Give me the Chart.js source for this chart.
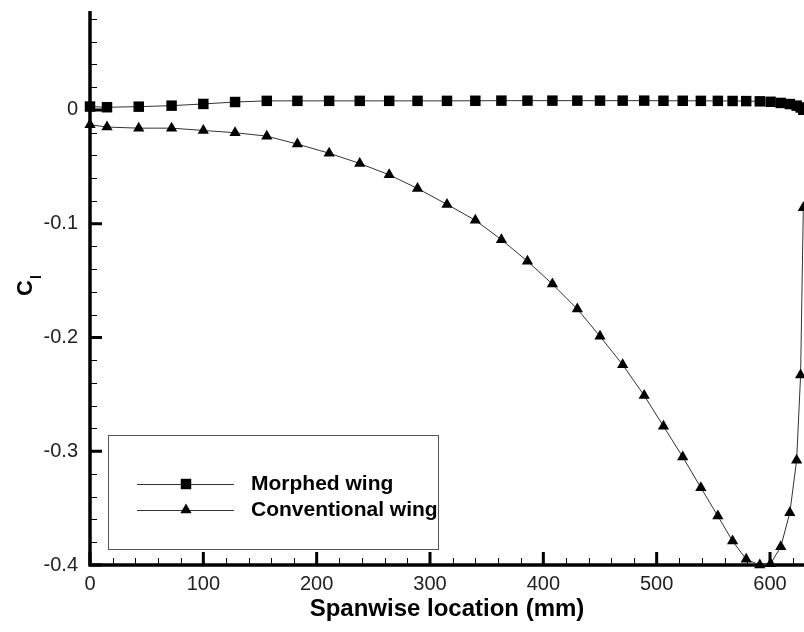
<html><head>
<title>Spanwise lift coefficient</title>
<style>
  body {
    margin: 0;
    background-color: #fff;
  }
  #wrap {
    width: 804px;
    height: 632px;
  }
</style>
<script src="https://cdn.jsdelivr.net/npm/chart.js"></script>
</head>
<body>
  <div id="wrap"><canvas id="clChart" width="804" height="632"></canvas></div>

  <script>
    // values
    const spanwise = [0, 15, 43, 72, 100, 128, 156, 183, 211, 238, 264, 289, 315, 340,
      363, 386, 408, 430, 450, 470, 489, 506, 523, 539, 554, 567, 579, 591,
      600.5, 609.5, 617.5, 623.5, 627, 629.4];
    const morphed = [0.003, 0.0024, 0.0029, 0.0038, 0.0053, 0.007, 0.008, 0.008, 0.008, 0.008,
      0.008, 0.008, 0.008, 0.0081, 0.0082, 0.0082, 0.0082, 0.0082, 0.0082, 0.0082,
      0.0082, 0.0081, 0.0081, 0.008, 0.008, 0.0079, 0.0078, 0.0076, 0.0072, 0.0062,
      0.0052, 0.0038, 0.0022, 0.0002];
    const conventional = [-0.013, -0.015, -0.016, -0.016, -0.018, -0.020, -0.023, -0.030,
      -0.038, -0.047, -0.057, -0.069, -0.083, -0.097, -0.114, -0.133, -0.153, -0.175,
      -0.199, -0.224, -0.251, -0.278, -0.305, -0.332, -0.357, -0.379, -0.395, -0.400,
      -0.399, -0.384, -0.354, -0.308, -0.233, -0.086];
    const seriesNames = ['Morphed wing', 'Conventional wing'];
    const xTicks = [0, 100, 200, 300, 400, 500, 600];
    const yTicks = [0, -0.1, -0.2, -0.3, -0.4];

    const FONT = '"Liberation Sans", Arial, sans-serif';
    const toPoints = (xs, ys) => xs.map((x, i) => ({ x: x, y: ys[i] }));

    // axis lines with inward major/minor ticks (Tecplot style)
    const axesPlugin = {
      id: 'axes',
      beforeDatasetsDraw(chart) {
        const { ctx, chartArea: a, scales: { x, y } } = chart;
        ctx.save();
        ctx.strokeStyle = '#000';
        ctx.lineCap = 'butt';

        // minor ticks
        ctx.lineWidth = 1;
        ctx.beginPath();
        for (let v = 20; v < x.max; v += 20) {
          if (v % 100 === 0) continue;
          const px = Math.round(x.getPixelForValue(v)) + 0.5;
          ctx.moveTo(px, a.bottom);
          ctx.lineTo(px, a.bottom - 7);
        }
        for (let k = -19; k <= 4; k++) {
          if (k % 5 === 0) continue;
          const py = Math.round(y.getPixelForValue(k * 0.02)) + 0.5;
          ctx.moveTo(a.left, py);
          ctx.lineTo(a.left + 7, py);
        }
        ctx.stroke();

        // major ticks
        ctx.lineWidth = 3;
        ctx.beginPath();
        xTicks.forEach(v => {
          const px = x.getPixelForValue(v);
          ctx.moveTo(px, a.bottom);
          ctx.lineTo(px, a.bottom - 13);
        });
        yTicks.forEach(v => {
          const py = y.getPixelForValue(v);
          ctx.moveTo(a.left, py);
          ctx.lineTo(a.left + 12, py);
        });
        ctx.stroke();

        // axis lines
        ctx.lineWidth = 3.5;
        ctx.beginPath();
        ctx.moveTo(a.left, a.top);
        ctx.lineTo(a.left, a.bottom);
        ctx.lineTo(a.right, a.bottom);
        ctx.stroke();
        ctx.restore();
      },
      afterDraw(chart) {
        const { ctx, scales: { y } } = chart;
        // subscript "l" of C_l on the rotated y title
        ctx.save();
        ctx.translate(25, (y.top + y.bottom) / 2);
        ctx.rotate(-Math.PI / 2);
        ctx.fillStyle = '#000';
        ctx.font = 'bold 14px ' + FONT;
        ctx.textBaseline = 'middle';
        ctx.fillText('l', 9, 12);
        ctx.restore();
      }
    };

    // boxed legend inside the plot, lower left
    const boxLegend = {
      id: 'boxLegend',
      afterDraw(chart) {
        const { ctx } = chart;
        ctx.save();
        ctx.fillStyle = '#fff';
        ctx.fillRect(108, 435, 330, 114);
        ctx.strokeStyle = '#555';
        ctx.lineWidth = 1;
        ctx.strokeRect(108.5, 435.5, 330, 114);

        chart.data.datasets.forEach((ds, i) => {
          const yy = 484 + i * 26;
          ctx.strokeStyle = '#333';
          ctx.lineWidth = 1;
          ctx.beginPath();
          ctx.moveTo(137, yy + 0.5);
          ctx.lineTo(234, yy + 0.5);
          ctx.stroke();
          ctx.fillStyle = '#000';
          Chart.helpers.drawPoint(ctx, {
            pointStyle: ds.pointStyle,
            radius: ds.pointRadius,
            borderWidth: 0,
            rotation: 0
          }, 186, yy);
          ctx.fillStyle = '#000';
          ctx.font = 'bold 21px ' + FONT;
          ctx.textBaseline = 'middle';
          ctx.fillText(ds.label, 251, yy);
        });
        ctx.restore();
      }
    };

    new Chart(document.getElementById('clChart'), {
      type: 'line',
      data: {
        datasets: [{
          label: seriesNames[0],
          data: toPoints(spanwise, morphed),
          borderColor: '#333',
          borderWidth: 1,
          backgroundColor: '#000',
          pointStyle: 'rect',
          pointRadius: 7.4,
          pointBorderWidth: 0,
          pointBackgroundColor: '#000',
          tension: 0,
          clip: false
        }, {
          label: seriesNames[1],
          data: toPoints(spanwise, conventional),
          borderColor: '#333',
          borderWidth: 1,
          backgroundColor: '#000',
          pointStyle: 'triangle',
          pointRadius: 6.5,
          pointBorderWidth: 0,
          pointBackgroundColor: '#000',
          tension: 0,
          clip: false
        }]
      },
      options: {
        responsive: false,
        animation: false,
        devicePixelRatio: 1,
        layout: { autoPadding: false, padding: { top: 11, right: 0, left: 0, bottom: 0 } },
        plugins: {
          legend: { display: false },
          tooltip: { enabled: false }
        },
        scales: {
          x: {
            type: 'linear',
            min: 0,
            max: 630,
            afterFit: s => { s.height = 67; s.paddingLeft = 0; s.paddingRight = 0; },
            grid: { display: false, drawTicks: false },
            border: { display: false },
            ticks: {
              stepSize: 100,
              includeBounds: false,
              padding: 7,
              maxRotation: 0,
              autoSkip: false,
              color: '#222',
              font: { family: FONT, size: 20 }
            },
            title: {
              display: true,
              text: 'Spanwise location (mm)',
              color: '#000',
              padding: { top: 0, bottom: 8 },
              font: { family: FONT, size: 24, weight: 'bold' }
            }
          },
          y: {
            type: 'linear',
            min: -0.4,
            max: 0.087,
            afterFit: s => { s.width = 90; s.paddingTop = 0; s.paddingBottom = 0; },
            grid: { display: false, drawTicks: false },
            border: { display: false },
            ticks: {
              stepSize: 0.1,
              includeBounds: false,
              padding: 12,
              color: '#222',
              font: { family: FONT, size: 20 },
              callback: v => (Math.abs(v) < 1e-9 ? '0' : v.toFixed(1))
            },
            title: {
              display: true,
              text: 'C',
              color: '#000',
              padding: { top: 13, bottom: 0 },
              font: { family: FONT, size: 22, weight: 'bold' }
            }
          }
        }
      },
      plugins: [axesPlugin, boxLegend]
    });
  </script>
</body></html>
